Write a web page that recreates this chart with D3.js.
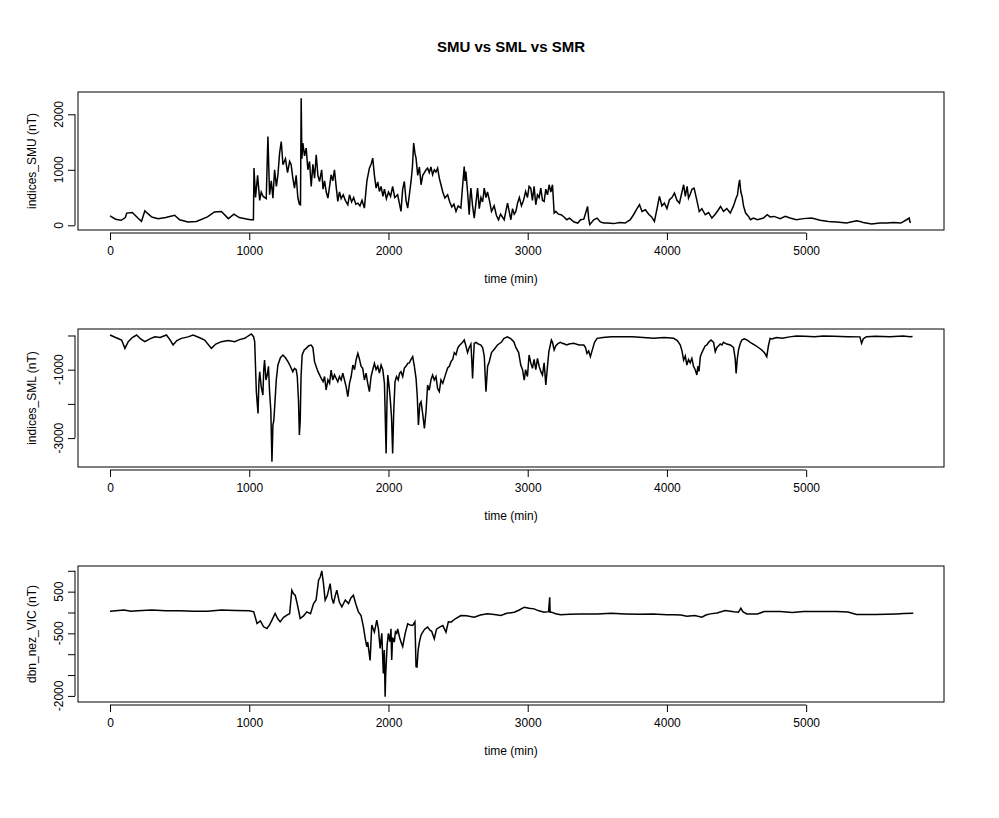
<!DOCTYPE html>
<html>
<head>
<meta charset="utf-8">
<script src="https://cdn.jsdelivr.net/npm/d3@7"></script>
<style>
  body { margin: 0; background: #fff; }
  text { font-family: "Liberation Sans", Arial, sans-serif; }
</style>
</head>
<body>
<svg id="chart" width="999" height="818"></svg>
<script>
// --- data ---
const smuTime = [0,40,80,110,120,160,200,226,250,300,345,400,464,500,560,620,700,750,800,850,890,928,988,1010,1030,
  1034,1045,1060,1075,1086,1100,1122,1134,1146,1158,1170,1182,1195,1206,1218,1230,1242,1260,1275,1290,1301,1313,1325,1337,1349,1360,1368,1373,1378,1385,1397,1409,1421,1433,1445,1457,1469,1481,1493,1505,1520,1530,1541,1553,1565,1577,1588,1600,1612,1624,1636,1648,1660,1675,1690,1708,1720,1735,1750,1765,1780,1795,1810,1827,1845,1863,1875,1887,1899,1911,1923,1935,1947,1960,1971,1985,2000,2015,2030,2045,2066,2078,2090,2102,2114,2126,2138,2150,2162,2172,2181,2190,2198,2210,2222,2234,2246,2258,2270,2281,2293,2305,2317,2329,2341,2353,2365,2377,2390,2405,2425,2440,2455,2470,2485,2500,2520,2532,2544,2550,2556,2568,2580,2586,2592,2604,2616,2628,2640,2652,2664,2676,2688,2700,2711,2725,2740,2759,2775,2790,2805,2831,2843,2855,2867,2879,2891,2903,2915,2927,2940,2955,2970,2985,2998,3010,3022,3034,3046,3058,3070,3082,3094,3106,3118,3130,3142,3154,3166,3178,3190,3202,3220,3240,3261,3280,3300,3333,3360,3380,
  3403,3430,3438,3446,3474,3498,3522,3546,3570,3618,3660,3700,3737,3760,3785,3803,3821,3845,3869,3890,3910,3929,3946,3964,3982,4000,4018,4036,4054,4072,4090,4108,4120,4132,4145,4155,4167,4180,4195,4215,4232,4251,4275,4299,4323,4347,4370,4385,4406,4430,4455,4478,4495,4507,4514,4522,4531,4540,4550,4565,4586,4600,4621,4650,4693,4720,4741,4770,4813,4850,4884,4930,4980,5040,5100,5160,5219,5290,5362,5386,5410,5470,5530,5580,5626,5680,5721,5740,5745,5752,5764];
const smuVal = [170,110,90,140,220,230,130,70,260,150,120,140,180,100,60,70,150,240,250,120,200,140,110,100,100,
  1030,500,900,450,600,520,480,1600,550,800,490,1000,700,910,1300,1510,1090,1200,950,1150,1090,850,670,900,500,380,370,2290,1200,1480,1250,1390,1000,1150,700,1100,850,1270,900,790,1000,650,800,600,490,700,910,800,1000,700,430,600,480,550,450,370,550,420,500,380,400,350,450,310,800,1030,1100,1210,900,670,780,610,700,520,650,480,600,520,700,500,550,400,250,650,790,450,310,550,790,1050,1480,1300,1210,900,1050,730,900,950,1000,1030,950,1050,910,1000,960,1030,850,730,600,490,550,420,330,380,250,350,310,700,1060,800,970,600,190,500,670,350,130,400,670,300,500,420,670,500,600,450,250,350,180,100,200,100,250,400,250,100,300,200,250,400,500,350,450,610,500,700,670,450,700,370,550,500,670,450,430,650,550,730,600,730,220,250,200,190,150,100,130,60,40,
  100,110,340,120,12,100,130,60,40,40,30,50,40,100,190,300,370,250,280,200,150,70,300,520,350,400,300,460,500,580,450,400,600,730,520,700,490,560,650,670,450,250,300,190,230,130,200,280,340,250,300,220,350,480,550,700,820,600,520,350,220,160,100,130,100,130,190,150,160,120,160,130,100,120,130,90,70,60,40,80,70,50,24,40,40,50,40,100,130,60,50];

// SML as [time, value] pairs
const smlQuiet = [[0,14],[40,-60],[83,-132],[107,-376],[131,-180],[160,-60],[191,14],[220,-100],[250,-180],[290,-90],
  [322,-35],[360,-60],[405,14],[430,-120],[453,-278],[480,-150],[513,-83],[560,-40],[597,14],[640,-60],
  [680,-132],[728,-376],[760,-250],[800,-180],[850,-150],[895,-180],[930,-120],[967,-83],[1015,44],[1031,-35]];
const smlStorm = [[1039,-180],[1051,-1643],[1063,-2277],[1069,-1400],[1075,-1058],[1086,-1500],[1098,-1740],[1104,-1000],
  [1110,-717],[1120,-1300],[1129,-1155],[1138,-900],[1146,-1643],[1155,-2200],[1163,-3690],[1170,-2618],[1176,-2500],
  [1182,-2130],[1194,-1300],[1206,-863],[1224,-650],[1242,-570],[1260,-650],[1278,-765],[1295,-900],[1313,-1058],
  [1325,-960],[1337,-1000],[1345,-1200],[1354,-1935],[1360,-2910],[1366,-2500],[1372,-1200],[1380,-570],[1395,-420],
  [1409,-375],[1427,-300],[1445,-278],[1457,-350],[1469,-765],[1480,-900],[1493,-1050],[1505,-1150],[1517,-1253],
  [1530,-1350],[1541,-1200],[1552,-1594],[1565,-1300],[1577,-1400],[1588,-1009],[1600,-1300],[1612,-1150],
  [1624,-1250],[1636,-1350],[1648,-1200],[1660,-1300],[1672,-1100],[1684,-1302],[1696,-1500],[1708,-1789],
  [1720,-1400],[1732,-1200],[1744,-863],[1756,-1000],[1768,-700],[1780,-522],[1792,-700],[1803,-900],[1815,-960],
  [1827,-1300],[1839,-1100],[1851,-1400],[1863,-1643],[1875,-1200],[1887,-1000],[1899,-814],[1911,-1000],
  [1923,-900],[1935,-1100],[1947,-863],[1959,-1000],[1971,-1400],[1983,-3447],[1989,-2000],[1995,-1155],
  [2005,-1500],[2014,-1935],[2022,-2400],[2030,-3447],[2038,-2200],[2047,-1350],[2058,-1200],[2070,-1300],
  [2080,-1100],[2090,-1058],[2102,-1200],[2114,-950],[2126,-900],[2138,-814],[2150,-800],[2162,-700],[2174,-619],
  [2186,-900],[2198,-1253],[2207,-1800],[2215,-2618],[2225,-2000],[2234,-1935],[2246,-2300],[2258,-2716],
  [2270,-2200],[2281,-1448],[2293,-1600],[2305,-1300],[2317,-1155],[2329,-1300],[2341,-1200],[2353,-1550],
  [2365,-1643],[2377,-1300],[2390,-1400],[2401,-1253],[2413,-1100],[2425,-950],[2437,-900],[2449,-765],
  [2461,-700],[2473,-500],[2485,-560],[2497,-375],[2508,-300],[2520,-250],[2532,-200],[2544,-132],[2556,-300],
  [2568,-500],[2580,-350],[2592,-250],[2598,-700],[2604,-1253],[2610,-700],[2616,-229],[2630,-200],[2645,-250],
  [2664,-278],[2676,-350],[2688,-600],[2700,-1643],[2712,-900],[2724,-765],[2740,-500],[2760,-400],[2783,-278],
  [2810,-200],[2830,-83],[2855,-40],[2880,-100],[2900,-180],[2915,-350],[2935,-500],[2950,-863],[2963,-1000],
  [2975,-1302],[2985,-1000],[2998,-1200],[3010,-570],[3022,-800],[3034,-960],[3046,-700],[3058,-1000],[3070,-668],
  [3082,-900],[3094,-1050],[3106,-1155],[3118,-800],[3130,-1448],[3142,-900],[3152,-473],[3161,-300],[3170,-132],
  [3178,-200],[3190,-424],[3202,-300],[3220,-229],[3235,-200],[3249,-229],[3265,-250],[3280,-278],[3297,-250],
  [3330,-229],[3369,-278]];
const smlRecovery = [[3403,-278],[3415,-350],[3426,-522],[3438,-450],[3450,-619],[3462,-450],[3480,-200],[3498,-83],
  [3540,-60],[3600,-40],[3666,-34],[3750,-40],[3830,-60],[3905,-83],[3980,-60],[4048,-83],[4075,-150],[4096,-278],
  [4108,-450],[4120,-717],[4132,-600],[4143,-863],[4155,-700],[4167,-800],[4179,-668],[4191,-900],[4203,-1000],
  [4215,-1155],[4222,-900],[4230,-1050],[4240,-619],[4251,-500],[4263,-400],[4275,-300],[4287,-278],[4299,-200],
  [4317,-132],[4335,-200],[4347,-473],[4359,-350],[4371,-300],[4383,-250],[4395,-278],[4406,-200],[4430,-250],
  [4455,-278],[4478,-350],[4490,-668],[4497,-1107],[4505,-700],[4514,-424],[4522,-300],[4530,-200],[4538,-132],
  [4555,-100],[4575,-132],[4598,-200],[4640,-300],[4681,-424],[4700,-500],[4717,-619],[4729,-300],[4741,-83],
  [4755,-100],[4770,-83],[4789,-60],[4830,-83],[4880,-40],[4932,-15],[4990,-20],[5060,-34],[5123,-15],[5200,-20],
  [5300,-34],[5386,-40],[5398,-229],[5410,-100],[5422,-63],[5434,-34],[5500,-20],[5600,-34],[5697,-15],
  [5745,-34],[5764,-30]];

const vicTime = [0,100,150,200,300,400,500,600,700,800,900,1000,1032,1056,1080,1103,1127,1145,1163,1186,1205,1222,1245,1270,1290,1306,1318,1330,1345,1366,1390,1414,1440,1462,1480,1498,1510,1521,1533,1545,1560,1581,1593,1605,1617,1629,1647,1665,1690,1713,1730,1748,1766,1784,1803,1820,1832,1844,1851,1868,1880,1899,1916,1928,1940,1952,1963,1970,1976,1980,1990,1999,2010,2018,2023,2030,2042,2050,2059,2066,2080,2090,2102,2120,2138,2155,2174,2190,2198,2205,2213,2222,2234,2246,2260,2281,2298,2310,2329,2345,2370,2390,2413,2430,2449,2480,2520,2560,2616,2660,2711,2760,2807,2850,2903,2940,2975,3010,3046,3080,3118,3150,3158,3161,3171,3200,3237,3300,3380,
  3500,3600,3700,3800,3900,4000,4048,4100,4143,4200,4251,4280,4311,4360,4418,4480,4514,4531,4545,4574,4650,4700,4813,4900,4980,5100,5219,5300,5362,5500,5649,5700,5769];
const vicVal = [30,60,30,40,60,40,40,30,30,60,50,40,16,-263,-200,-343,-383,-300,-184,-24,-150,-224,-120,-64,-30,534,450,414,200,-144,-80,16,-30,215,300,773,850,996,700,295,400,693,350,215,400,534,250,135,300,215,350,414,200,16,-72,-343,-600,-821,-710,-1148,-303,-471,-184,-400,-861,-500,-1459,-900,-2017,-1500,-800,-503,-700,-391,-1140,-600,-710,-463,-500,-391,-600,-710,-821,-500,-271,-300,-311,-224,-1300,-1308,-900,-710,-542,-471,-400,-351,-423,-450,-630,-400,-343,-311,-471,-224,-232,-150,-72,-80,-112,-60,-33,-50,-72,-20,8,60,127,100,87,40,8,20,366,8,8,-30,-56,-40,-33,
  -33,-20,-33,-40,-33,-56,-56,-60,-88,-70,-112,-60,-33,-10,47,20,8,103,20,-33,-33,24,24,0,24,24,24,10,-48,-48,-33,-25,-17];

const xTicks = [0,1000,2000,3000,4000,5000];

// --- layout ---
const svg = d3.select("#chart");
const left = 78, right = 944;
const x = d3.scaleLinear().domain([-230, 5990]).range([left, right]);

svg.append("text")
  .attr("x", 511).attr("y", 52)
  .attr("text-anchor", "middle")
  .attr("font-size", 15).attr("font-weight", "bold")
  .text("SMU vs SML vs SMR");

const zip = (ts, vs) => ts.map((t, j) => [t, vs[j]]);

const panels = [
  { pts: zip(smuTime, smuVal), top: 92, bottom: 230, domain: [-85, 2402], ticks: [0,1000,2000], labels: [0,1000,2000], ylab: "indices_SMU (nT)" },
  { pts: smlQuiet.concat(smlStorm, smlRecovery), top: 329, bottom: 467, domain: [-3845, 190], ticks: [0,-1000,-2000,-3000], labels: [-1000,-3000], ylab: "indices_SML (nT)" },
  { pts: zip(vicTime, vicVal), top: 566, bottom: 702, domain: [-2146, 1115], ticks: [1000,500,0,-500,-1000,-1500,-2000], labels: [500,-500,-2000], ylab: "dbn_nez_VIC (nT)" }
];

panels.forEach(p => {
  const y = d3.scaleLinear().domain(p.domain).range([p.bottom, p.top]);
  const g = svg.append("g");

  g.append("path")
    .datum(p.pts)
    .attr("fill", "none")
    .attr("stroke", "#000")
    .attr("stroke-width", 1.5)
    .attr("d", d3.line().x(d => x(d[0])).y(d => y(d[1])));

  g.append("rect")
    .attr("x", left).attr("y", p.top)
    .attr("width", right - left).attr("height", p.bottom - p.top)
    .attr("fill", "none").attr("stroke", "#000").attr("stroke-width", 1);

  // x axis
  const xa = g.append("g").attr("transform", `translate(0,${p.bottom + 3})`)
    .call(d3.axisBottom(x).tickValues(xTicks).tickSize(7).tickFormat(d3.format("d")));
  xa.select(".domain").attr("d", `M${x(0)},0H${x(5000)}`);
  xa.selectAll("text").attr("font-size", 12).attr("dy", "1em")
    .attr("font-family", "Liberation Sans, Arial, sans-serif");

  g.append("text")
    .attr("x", 511).attr("y", p.bottom + 53)
    .attr("text-anchor", "middle").attr("font-size", 12)
    .text("time (min)");

  // y axis
  const ya = g.append("g").attr("transform", `translate(${left - 3},0)`)
    .call(d3.axisLeft(y).tickValues(p.ticks).tickSize(7).tickFormat(""));
  const ex = d3.extent(p.ticks);
  ya.select(".domain").attr("d", `M0,${y(ex[0])}V${y(ex[1])}`);
  p.labels.forEach(l => {
    g.append("text")
      .attr("transform", `translate(${left - 15},${y(l)}) rotate(-90)`)
      .attr("text-anchor", "middle").attr("font-size", 12)
      .text(l);
  });

  g.append("text")
    .attr("transform", `translate(36,${(p.top + p.bottom) / 2}) rotate(-90)`)
    .attr("text-anchor", "middle").attr("font-size", 12)
    .text(p.ylab);
});
</script>
</body>
</html>
